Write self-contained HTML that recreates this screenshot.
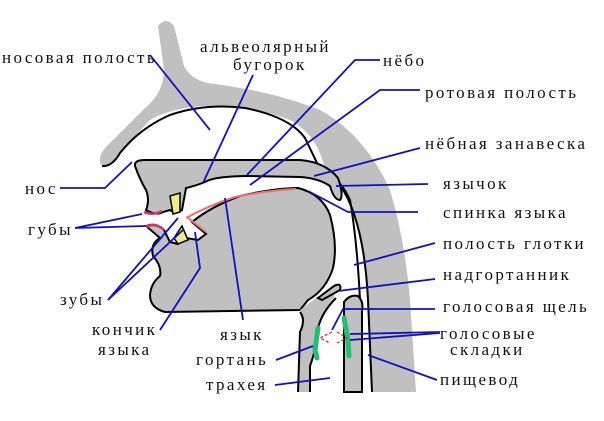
<!DOCTYPE html>
<html><head><meta charset="utf-8"><style>
html,body{margin:0;padding:0;background:#fff;width:604px;height:421px;overflow:hidden}
svg text{font-family:"Liberation Serif","DejaVu Serif",serif;font-size:17px;letter-spacing:2.4px;fill:#111}
</style></head><body>
<svg width="604" height="421" viewBox="0 0 604 421" xmlns="http://www.w3.org/2000/svg">
<path d="M158,26 Q166,16 174,26 L184,66 Q192,82 215,84 Q275,92 320,110 Q365,135 390,190 Q405,240 410,300 L416,392 L372,392 L368,300 Q364,220 340,185 L325,170 Q318,135 290,120 Q250,105 205,106 Q170,108 150,120 L120,152 Q112,168 102,166 Q96,158 106,147 L143,110 Q164,93 164,70 Z" fill="#c0c0c0"/>
<path d="M102,166 Q112,167 120,153 Q140,128 170,115 Q205,103 245,108 Q290,117 305,138 L318,165 Q340,178 350,200 Q357,240 360,300 L362,392" fill="none" stroke="#000" stroke-width="2"/>
<path d="M372,392 L368,300 Q364,220 340,185" fill="none" stroke="#000" stroke-width="2"/>
<path d="M135,166 Q134,160 145,160 L300,160 Q325,162 338,178 Q344,195 340,200 Q334,200 330,186 Q318,178 300,177 L250,176 Q215,176 205,182 Q195,186 186,188 L182,210 Q176,214 170,210 L163,212 Q156,216 146,210 Q150,200 146,190 Q140,180 135,166 Z" fill="#c0c0c0" stroke="#000" stroke-width="2"/>
<path d="M146,226 Q156,222 164,230 L170,242 L178,244 L186,238 L198,240 L206,234 L192,222 Q212,206 240,196 Q275,188 298,188 Q322,194 330,215 Q338,245 333,268 Q326,290 308,300 L300,310 L165,312 Q150,308 150,295 Q151,283 160,276 Q162,266 153,256 Q150,244 160,238 Z" fill="#c0c0c0" stroke="#000" stroke-width="2"/>
<path d="M300,310 Q304,318 300,330 L298,392 L310,392 L310,368 Q316,350 317,330 Q320,316 332,300 Q338,294 330,290 L316,298 Z" fill="#c0c0c0"/>
<path d="M300,312 Q306,320 300,332 L298,392" fill="none" stroke="#000" stroke-width="2"/>
<path d="M310,392 L310,366 Q316,350 318,328 Q322,312 336,298" fill="none" stroke="#000" stroke-width="2"/>
<path d="M318,298 L334,286 Q342,282 340,290 L322,300 Z" fill="#c0c0c0" stroke="#000" stroke-width="2"/>
<path d="M344,392 L344,302 Q350,294 358,296 Q364,302 362,310 L362,392 Z" fill="#c0c0c0" stroke="#000" stroke-width="2"/>
<path d="M186,218 Q210,205 235,197 Q270,190 296,189" fill="none" stroke="#f07070" stroke-width="2"/>
<path d="M188,218 L206,232" fill="none" stroke="#f07070" stroke-width="2"/>
<path d="M144,212 Q152,216 162,211" fill="none" stroke="#e0306a" stroke-width="2.5"/>
<path d="M146,227 Q155,222 164,230" fill="none" stroke="#e0306a" stroke-width="2.5"/>
<path d="M170,196 L180,193 L180,212 L173,214 Z" fill="#f0ee80" stroke="#000" stroke-width="1.5"/>
<path d="M174,238 L182,226 L188,240 L178,244 Z" fill="#f0ee80" stroke="#000" stroke-width="1.5"/>
<path d="M318,328 L315,350 L317,358" fill="none" stroke="#20c070" stroke-width="5" stroke-linecap="round"/>
<path d="M344,318 L348,340 L349,356" fill="none" stroke="#20c070" stroke-width="5" stroke-linecap="round"/>
<path d="M332,332 L320,338 L330,343 M337,332 L347,338 L337,343" fill="none" stroke="#e02020" stroke-width="1.2" stroke-dasharray="3,2"/>
<g stroke="#1010c0" stroke-width="1.8" fill="none">
<path d="M150,55 L210,130"/>
<path d="M253,75 L203,183"/>
<path d="M380,60 L355,60 L247,175"/>
<path d="M420,90 L380,90 L250,185"/>
<path d="M420,148 L314,176"/>
<path d="M428,184 L336,186"/>
<path d="M418,212 L348,212 L310,192"/>
<path d="M435,243 L354,265"/>
<path d="M435,279 L338,291"/>
<path d="M435,309 L343,309 L332,330"/>
<path d="M440,332 L350,334 M440,333 L350,340"/>
<path d="M437,380 L368,355"/>
<path d="M60,188 L105,188 L132,162"/>
<path d="M75,228 L142,214 M75,228 L146,226"/>
<path d="M108,300 L178,218 M108,300 L184,229"/>
<path d="M160,330 L200,268 L195,232"/>
<path d="M243,320 L225,198"/>
<path d="M276,360 L313,346"/>
<path d="M275,385 L330,378"/>
</g>
<text x="2" y="63">носовая полость</text>
<text x="200" y="52">альвеолярный</text>
<text x="233" y="70">бугорок</text>
<text x="383" y="66">нёбо</text>
<text x="425" y="98">ротовая полость</text>
<text x="425" y="149">нёбная занавеска</text>
<text x="443" y="189">язычок</text>
<text x="443" y="218">спинка языка</text>
<text x="443" y="249">полость глотки</text>
<text x="443" y="280">надгортанник</text>
<text x="443" y="312">голосовая щель</text>
<text x="440" y="339">голосовые</text>
<text x="450" y="355">складки</text>
<text x="440" y="385">пищевод</text>
<text x="25" y="194">нос</text>
<text x="28" y="235">губы</text>
<text x="60" y="305">зубы</text>
<text x="92" y="335">кончик</text>
<text x="98" y="355">языка</text>
<text x="220" y="340">язык</text>
<text x="196" y="365">гортань</text>
<text x="206" y="390">трахея</text>
</svg>
</body></html>
